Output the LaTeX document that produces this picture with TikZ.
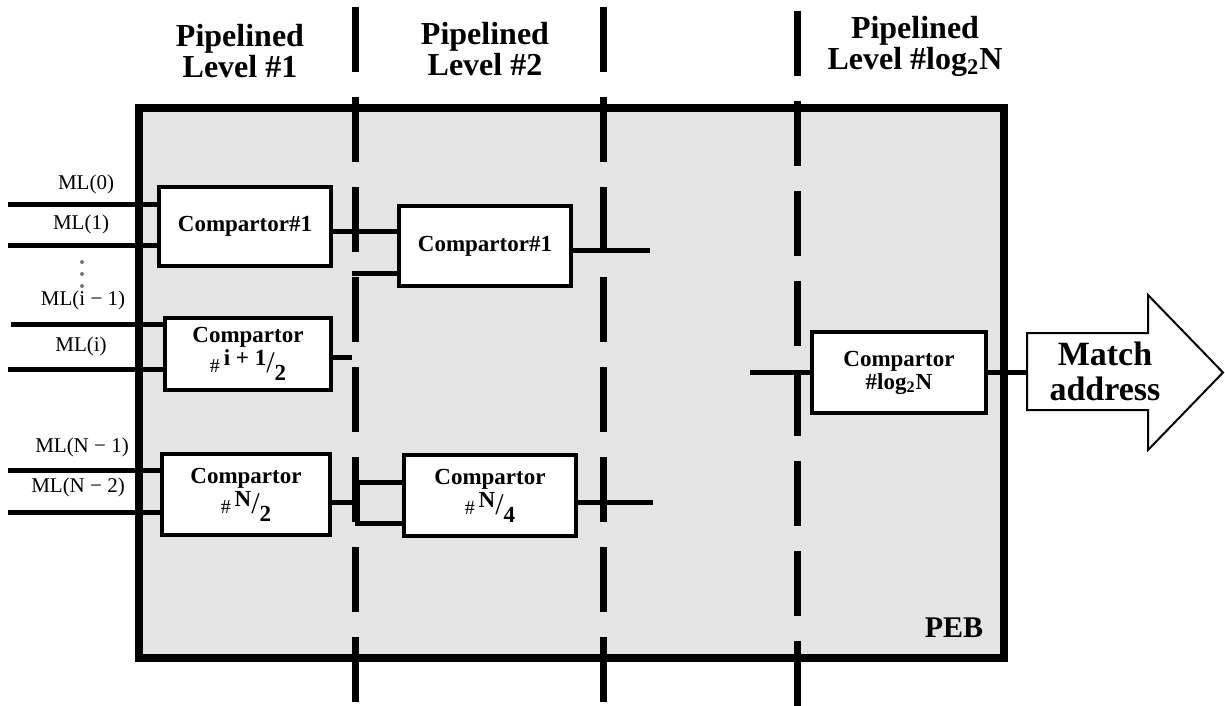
\documentclass[tikz,border=0pt]{standalone}
\usepackage{fontspec}
\setmainfont{Liberation Serif}
\definecolor{ink}{RGB}{0,0,0}
\definecolor{soft}{RGB}{120,120,120}
\definecolor{pebfill}{RGB}{228,228,228}
\newcommand{\cfrac}[2]{{\mdseries\fontsize{10}{10}\selectfont\#}\,\raisebox{3.5pt}{#1}{\mdseries\fontsize{15}{15}\selectfont/}\raisebox{-4pt}{#2}}
\tikzset{
  every picture/.style={color=ink},
  cmp/.style={draw=ink, line width=2pt, fill=white, inner sep=0pt, align=center, font=\bfseries\fontsize{11.5}{15}\selectfont},
  wire/.style={line width=2.5pt},
  stage/.style={line width=3.5pt, dash pattern=on 32.5pt off 12.5pt},
  peb/.style={draw=ink, fill=pebfill, line width=3.75pt},
  ttl/.style={font=\bfseries\fontsize{16}{14}\selectfont, align=center, inner sep=0pt},
  ml/.style={font=\fontsize{10.5}{12}\selectfont, inner sep=0pt},
  outarrow/.style={draw=ink, line width=1pt, fill=white, line join=miter},
}

\begin{document}
\begin{tikzpicture}[x=0.5pt, y=-0.5pt]
  \useasboundingbox (0,0) rectangle (1225,706);
  % the engine block
  \draw[peb] (139,108) rectangle (1004,658);
  \node[font=\bfseries\fontsize{15}{15}\selectfont] (pebl) at (954,628) {PEB};
  % pipeline stage cuts
  \foreach \sx/\sy in {355/7,603/7,797/11} { \draw[stage] (\sx,\sy) -- (\sx,706); }
  \node[ttl] (t1) at (240,51) {Pipelined\\Level \#1};
  \node[ttl] (t2) at (485,49) {Pipelined\\Level \#2};
  \node[ttl] (t3) at (915,46) {Pipelined\\Level \#log\textsubscript{2}N};
  % comparators
  \node[cmp, minimum width=86pt, minimum height=39.5pt] (C1a) at (245,226.5) {Compartor\#1};
  \node[cmp, minimum width=83pt, minimum height=36pt] (Cia) at (248,354) {Compartor\\\cfrac{i + 1}{2}};
  \node[cmp, minimum width=84pt, minimum height=40.5pt] (CNa) at (246,494.5) {Compartor\\\cfrac{N}{2}};
  \node[cmp, minimum width=86pt, minimum height=40pt] (C1b) at (485,246) {Compartor\#1};
  \node[cmp, minimum width=86pt, minimum height=40.5pt] (CNb) at (490,495.5) {Compartor\\\cfrac{N}{4}};
  \node[cmp, minimum width=87pt, minimum height=40.5pt, font=\bfseries\fontsize{11.5}{11.5}\selectfont] (Clog) at (899,372.5) {Compartor\\\#log\textsubscript{2}N};
  % match lines in
  \node[ml] (l0) at (86,184) {ML(0)};
  \node[ml] (l1) at (81,224) {ML(1)};
  \node[ml] (l2) at (83,300) {ML(i − 1)};
  \node[ml] (l3) at (81,346) {ML(i)};
  \node[ml] (l4) at (82,447) {ML(N − 1)};
  \node[ml] (l5) at (78,487) {ML(N − 2)};
  \foreach \dy in {262,274,286} { \fill[soft] (82,\dy) circle (1pt); }
  \coordinate (ml0) at (8,204);
  \coordinate (ml1) at (8,245);
  \coordinate (ml2) at (11,324);
  \coordinate (ml3) at (8,369);
  \coordinate (ml4) at (8,470);
  \coordinate (ml5) at (8,512);
  \draw[wire] (ml0) -- (ml0 -| C1a.west);
  \draw[wire] (ml1) -- (ml1 -| C1a.west);
  \draw[wire] (ml2) -- (ml2 -| Cia.west);
  \draw[wire] (ml3) -- (ml3 -| Cia.west);
  \draw[wire] (ml4) -- (ml4 -| CNa.west);
  \draw[wire] (ml5) -- (ml5 -| CNa.west);
  % between levels
  \draw[wire] ([yshift=-2.25pt]C1a.east) -- ([yshift=-2.25pt]C1a.east -| C1b.west);
  \coordinate (s1) at (352,273);
  \draw[wire] (s1) -- (s1 -| C1b.west);
  \coordinate (o1) at (650,250);
  \draw[wire] (C1b.east |- o1) -- (o1);
  \coordinate (o2) at (352,357);
  \draw[wire] (Cia.east |- o2) -- (o2);
  \coordinate (br) at (357,502);
  \coordinate (brt) at (357,482);
  \coordinate (brb) at (357,523);
  \draw[wire] (CNa.east |- br) -- (br);
  \draw[wire] (brt -| CNb.west) -- (brt) -- (brb) -- (brb -| CNb.west);
  \coordinate (o3) at (653,502);
  \draw[wire] (CNb.east |- o3) -- (o3);
  \coordinate (i4) at (750,372);
  \draw[wire] (i4) -- (i4 -| Clog.west);
  % result
  \draw[outarrow] (1027,333) -- (1148,333) -- (1148,295) -- (1223,372.5) -- (1148,450) -- (1148,410) -- (1027,410) -- cycle;
  \coordinate (arrtail) at (1027,372);
  \draw[wire] (Clog.east |- arrtail) -- (arrtail);
  \node[font=\bfseries\fontsize{17}{17.5}\selectfont, align=center, inner sep=0pt] (match) at (1105,371) {Match\\address};
\end{tikzpicture}
\end{document}
